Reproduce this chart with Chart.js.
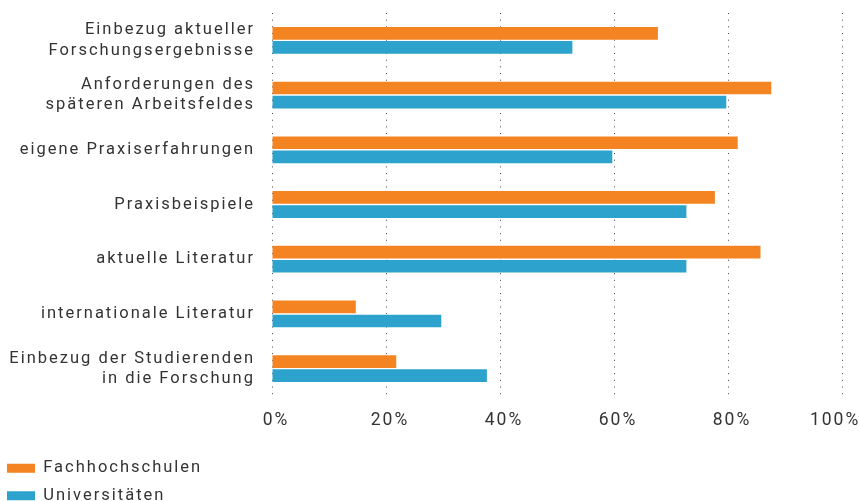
<!DOCTYPE html>
<html lang="de">
<head>
<meta charset="utf-8">
<script src="https://cdn.jsdelivr.net/npm/chart.js@4/dist/chart.umd.min.js"></script>
<style>
  html, body { margin: 0; padding: 0; background: #fff; }
  #wrap { width: 859px; height: 501px; }
</style>
</head>
<body>
<div id="wrap"><canvas id="chart"></canvas></div>
<script>
// Kategorien (mehrzeilige Labels als Arrays)
const categories = [
    ["Einbezug aktueller", "Forschungsergebnisse"],
    ["Anforderungen des", "späteren Arbeitsfeldes"],
    "eigene Praxiserfahrungen",
    "Praxisbeispiele",
    "aktuelle Literatur",
    "internationale Literatur",
    ["Einbezug der Studierenden", "in die Forschung"]
];
const seriesNames = ["Fachhochschulen", "Universitäten"];
const fachhochschulen = [67.7, 87.6, 81.7, 77.7, 85.7, 14.7, 21.8];
const universitaeten = [52.7, 79.7, 59.7, 72.7, 72.7, 29.7, 37.7];
const xTicks = [0, 20, 40, 60, 80, 100];

const orange = "#f38421";
const blue = "#2ca2cc";
const textColor = "#333333";

Chart.defaults.font.family = "Roboto, 'DejaVu Sans', sans-serif";
Chart.defaults.color = textColor;

// etwas Laufweite wie in der Vorlage
const letterSpacing = {
    id: "letterSpacing",
    beforeUpdate(chart) { chart.ctx.letterSpacing = "2px"; },
    beforeDraw(chart) { chart.ctx.letterSpacing = "2px"; }
};

const ctx = document.getElementById("chart").getContext("2d");
new Chart(ctx, {
    type: "bar",
    plugins: [letterSpacing],
    data: {
        labels: categories,
        datasets: [
            {
                label: seriesNames[0],
                data: fachhochschulen,
                backgroundColor: orange,
                categoryPercentage: 0.515,
                barPercentage: 0.9
            },
            {
                label: seriesNames[1],
                data: universitaeten,
                backgroundColor: blue,
                categoryPercentage: 0.515,
                barPercentage: 0.9
            }
        ]
    },
    options: {
        indexAxis: "y",
        responsive: true,
        maintainAspectRatio: false,
        animation: false,
        layout: {
            padding: { left: -4, right: 17, top: 13, bottom: -13 }
        },
        plugins: {
            tooltip: { enabled: false },
            legend: {
                position: "bottom",
                align: "start",
                labels: {
                    boxWidth: 28,
                    boxHeight: 9,
                    padding: 11,
                    color: textColor,
                    font: { size: 16.5 },
                    // lange Texte erzwingen eine Zeile pro Eintrag
                    generateLabels: function(chart) {
                        const items = Chart.defaults.plugins.legend.labels.generateLabels(chart);
                        items.forEach(item => { item.text = item.text + "\u2003".repeat(30); });
                        return items;
                    }
                }
            }
        },
        scales: {
            x: {
                min: 0,
                max: 100,
                afterBuildTicks: function(scale) {
                    scale.ticks = xTicks.map(v => ({ value: v }));
                },
                afterFit: function(scale) {
                    scale.height = 53;
                    scale.paddingLeft = 0;
                    scale.paddingRight = 0;
                },
                grid: {
                    color: "#444444",
                    drawTicks: false
                },
                border: {
                    display: false,
                    dash: [1, 5.67]
                },
                ticks: {
                    padding: 14,
                    labelOffset: 4,
                    color: textColor,
                    font: { size: 17.5 },
                    callback: function(value) {
                        return value === 100 ? value + "%\u2002\u2002" : value + "%";
                    }
                }
            },
            y: {
                afterFit: function(scale) {
                    scale.width = 276;
                    scale.paddingTop = 0;
                    scale.paddingBottom = 0;
                },
                grid: { display: false, drawTicks: false },
                border: { display: false },
                ticks: {
                    padding: 17,
                    color: textColor,
                    font: { size: 16.5, lineHeight: 1.22 }
                }
            }
        }
    }
});
</script>
</body>
</html>
